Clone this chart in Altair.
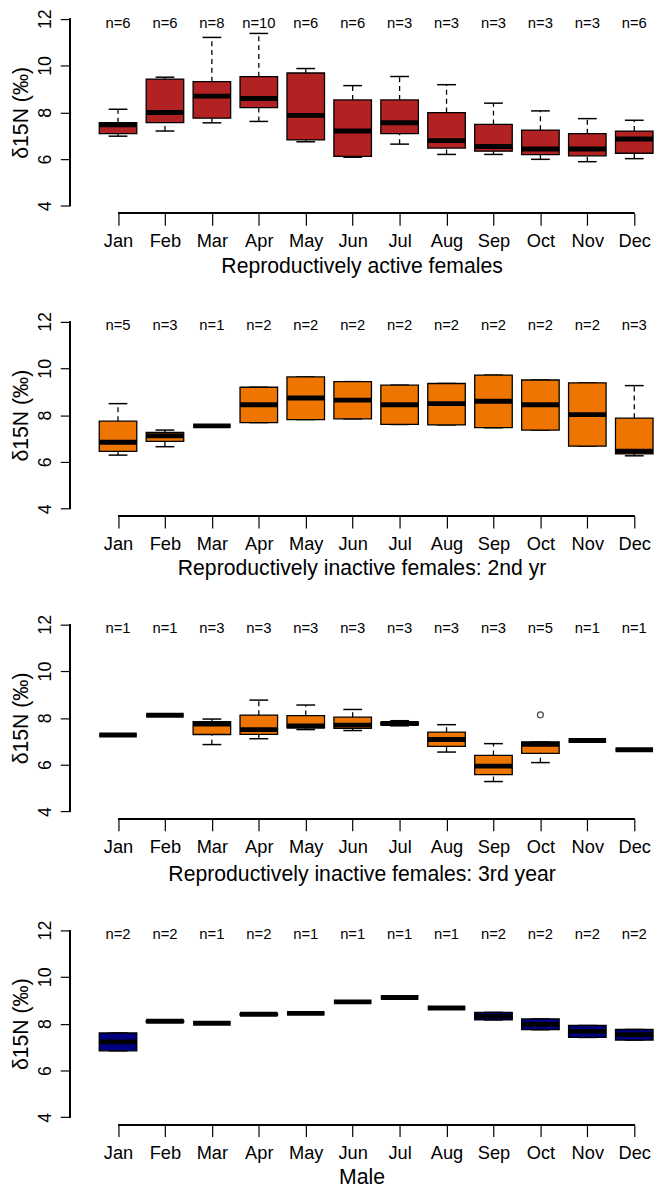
import altair as alt
import pandas as pd

MONTHS = ["Jan", "Feb", "Mar", "Apr", "May", "Jun", "Jul", "Aug", "Sep", "Oct", "Nov", "Dec"]
Y_TITLE = "δ15N (‰)"
Y_TICKS = [4, 6, 8, 10, 12]

# Panel 1: reproductively active females
P1_TITLE = "Reproductively active females"
P1_N = [6, 6, 8, 10, 6, 6, 3, 3, 3, 3, 3, 6]
P1_LOW = [6.98, 7.20, 7.55, 7.61, 6.74, 6.08, 6.64, 6.20, 6.20, 5.99, 5.89, 6.02]
P1_Q1 = [7.09, 7.56, 7.75, 8.20, 6.82, 6.12, 7.09, 6.47, 6.34, 6.19, 6.14, 6.25]
P1_MED = [7.47, 7.99, 8.69, 8.59, 7.87, 7.20, 7.55, 6.79, 6.54, 6.43, 6.43, 6.86]
P1_Q3 = [7.56, 9.42, 9.31, 9.52, 9.68, 8.53, 8.53, 7.99, 7.48, 7.24, 7.09, 7.20]
P1_HIGH = [8.13, 9.50, 11.20, 11.37, 9.87, 9.14, 9.53, 9.18, 8.39, 8.06, 7.73, 7.66]

# Panel 2: reproductively inactive females, 2nd year
P2_TITLE = "Reproductively inactive females: 2nd yr"
P2_N = [5, 3, 1, 2, 2, 2, 2, 2, 2, 2, 2, 3]
P2_LOW = [6.29, 6.65, 7.54, 7.68, 7.81, 7.84, 7.60, 7.58, 7.46, 7.36, 6.67, 6.26]
P2_Q1 = [6.45, 6.88, 7.54, 7.68, 7.81, 7.84, 7.60, 7.58, 7.46, 7.36, 6.67, 6.34]
P2_MED = [6.84, 7.12, 7.54, 8.44, 8.73, 8.64, 8.44, 8.49, 8.59, 8.44, 8.02, 6.46]
P2_Q3 = [7.74, 7.26, 7.54, 9.19, 9.63, 9.43, 9.28, 9.35, 9.71, 9.50, 9.38, 7.87]
P2_HIGH = [8.49, 7.36, 7.54, 9.19, 9.63, 9.43, 9.28, 9.35, 9.71, 9.50, 9.38, 9.26]

# Panel 3: reproductively inactive females, 3rd year
P3_TITLE = "Reproductively inactive females: 3rd year"
P3_N = [1, 1, 3, 3, 3, 3, 3, 3, 3, 5, 1, 1]
P3_LOW = [7.27, 8.11, 6.86, 7.11, 7.50, 7.46, 7.66, 6.54, 5.28, 6.09, 7.03, 6.64]
P3_Q1 = [7.27, 8.11, 7.29, 7.30, 7.57, 7.55, 7.70, 6.78, 5.58, 6.48, 7.03, 6.64]
P3_MED = [7.27, 8.11, 7.74, 7.50, 7.65, 7.69, 7.76, 7.08, 5.94, 6.87, 7.03, 6.64]
P3_Q3 = [7.27, 8.11, 7.84, 8.12, 8.10, 8.03, 7.82, 7.39, 6.40, 6.97, 7.03, 6.64]
P3_HIGH = [7.27, 8.11, 7.95, 8.76, 8.55, 8.36, 7.88, 7.71, 6.90, 6.97, 7.03, 6.64]
P3_OUT_MONTH = [10]
P3_OUT_VALUE = [8.13]

# Panel 4: males
P4_TITLE = "Male"
P4_N = [2, 2, 1, 2, 1, 1, 1, 1, 2, 2, 2, 2]
P4_LOW = [6.84, 8.07, 8.02, 8.37, 8.44, 8.93, 9.12, 8.67, 8.16, 7.74, 7.41, 7.30]
P4_MED = [7.22, 8.10, 8.02, 8.40, 8.44, 8.93, 9.12, 8.67, 8.32, 7.97, 7.67, 7.53]
P4_HIGH = [7.60, 8.13, 8.02, 8.43, 8.44, 8.93, 9.12, 8.67, 8.48, 8.20, 7.92, 7.75]

RED = "#B22222"
ORANGE = "#EE7600"
NAVY = "#000080"

FONT = "Liberation Sans"


def panel(title, n, low, q1, med, q3, high, fill, out_month=None, out_value=None, title_pad=5):
    df = pd.DataFrame({
        "idx": list(range(1, 13)),
        "month": MONTHS,
        "n": n,
        "low": low,
        "q1": q1,
        "med": med,
        "q3": q3,
        "high": high,
    })
    df["label"] = ["n=%d" % v for v in n]

    xs = alt.Scale(domain=[-0.02, 12.4], nice=False, zero=False)
    ys = alt.Scale(domain=[3.68, 12.32], nice=False, zero=False)
    label_expr = "[" + ",".join("'%s'" % m for m in MONTHS) + "][datum.value - 1]"
    x_axis = alt.Axis(values=list(range(1, 13)), labelExpr=label_expr, domain=False,
                      tickSize=12, tickWidth=1.2, labelPadding=7, labelFontSize=18.5,
                      labelFlush=False, labelOverlap=False, titleFontSize=21.5,
                      titlePadding=title_pad, grid=False)
    y_axis = alt.Axis(values=Y_TICKS, domain=False, tickSize=10, tickWidth=1.2,
                      labelAngle=270, labelAlign="center", labelBaseline="bottom",
                      labelPadding=6, labelFontSize=18, labelFlush=False, labelOverlap=False,
                      titleFontSize=21.5, titlePadding=4, grid=False)

    def X(f):
        return alt.X(f, type="quantitative", scale=xs, axis=x_axis, title=title)

    def Y(f):
        return alt.Y(f, type="quantitative", scale=ys, axis=y_axis, title=Y_TITLE)

    base = alt.Chart(df).transform_calculate(
        xl="datum.idx - 0.4", xr="datum.idx + 0.4",
        cl="datum.idx - 0.2", cr="datum.idx + 0.2")

    whisk_up = base.mark_rule(color="black", strokeWidth=1.3, strokeDash=[5, 4]).encode(
        x=X("idx"), y=Y("q3"), y2=alt.Y2("high"))
    whisk_dn = base.mark_rule(color="black", strokeWidth=1.3, strokeDash=[5, 4]).encode(
        x=X("idx"), y=Y("low"), y2=alt.Y2("q1"))
    cap_up = base.mark_rule(color="black", strokeWidth=1.5).encode(
        x=X("cl"), x2=alt.X2("cr"), y=Y("high"))
    cap_dn = base.mark_rule(color="black", strokeWidth=1.5).encode(
        x=X("cl"), x2=alt.X2("cr"), y=Y("low"))
    box = base.mark_rect(fill=fill, stroke="black", strokeWidth=1.3).encode(
        x=X("xl"), x2=alt.X2("xr"), y=Y("q1"), y2=alt.Y2("q3"))
    median = base.mark_rule(color="black", strokeWidth=5).encode(
        x=X("xl"), x2=alt.X2("xr"), y=Y("med"))
    ntext = base.mark_text(font=FONT, fontSize=15, baseline="middle", align="center",
                           color="black").encode(
        x=X("idx"), y=alt.Y(datum=11.83, type="quantitative", scale=ys, axis=y_axis, title=Y_TITLE),
        text="label:N")
    xline = alt.Chart(df).mark_rule(color="black", strokeWidth=1.2).encode(
        x=alt.X(datum=1, type="quantitative", scale=xs, axis=x_axis, title=title),
        x2=alt.X2(datum=12),
        y=alt.Y(datum=3.68, type="quantitative", scale=ys, axis=y_axis, title=Y_TITLE))
    yline = alt.Chart(df).mark_rule(color="black", strokeWidth=1.2).encode(
        x=alt.X(datum=-0.02, type="quantitative", scale=xs, axis=x_axis, title=title),
        y=alt.Y(datum=4, type="quantitative", scale=ys, axis=y_axis, title=Y_TITLE),
        y2=alt.Y2(datum=12))

    layers = [whisk_up, whisk_dn, cap_up, cap_dn, box, median, ntext, xline, yline]
    if out_month:
        odf = pd.DataFrame({"idx": out_month, "value": out_value})
        pts = alt.Chart(odf).mark_point(shape="circle", filled=False, size=36,
                                        color="black", strokeWidth=1.3).encode(
            x=X("idx"), y=Y("value"))
        layers.append(pts)
    return alt.layer(*layers).properties(width=591, height=205)


p1 = panel(P1_TITLE, P1_N, P1_LOW, P1_Q1, P1_MED, P1_Q3, P1_HIGH, RED)
p2 = panel(P2_TITLE, P2_N, P2_LOW, P2_Q1, P2_MED, P2_Q3, P2_HIGH, ORANGE)
p3 = panel(P3_TITLE, P3_N, P3_LOW, P3_Q1, P3_MED, P3_Q3, P3_HIGH, ORANGE,
           P3_OUT_MONTH, P3_OUT_VALUE, title_pad=8)
p4 = panel(P4_TITLE, P4_N, P4_LOW, P4_LOW, P4_MED, P4_HIGH, P4_HIGH, NAVY)

chart = alt.vconcat(p1, p2, p3, p4, spacing=35).properties(
    padding={"left": 3, "top": -8, "right": 0, "bottom": 0}
).configure_view(
    stroke=None
).configure_axis(
    labelFont=FONT, titleFont=FONT, labelColor="black", titleColor="black",
    tickColor="black", titleFontWeight="normal"
)

chart.save("out.html", embed_options={"renderer": "svg", "actions": False})
